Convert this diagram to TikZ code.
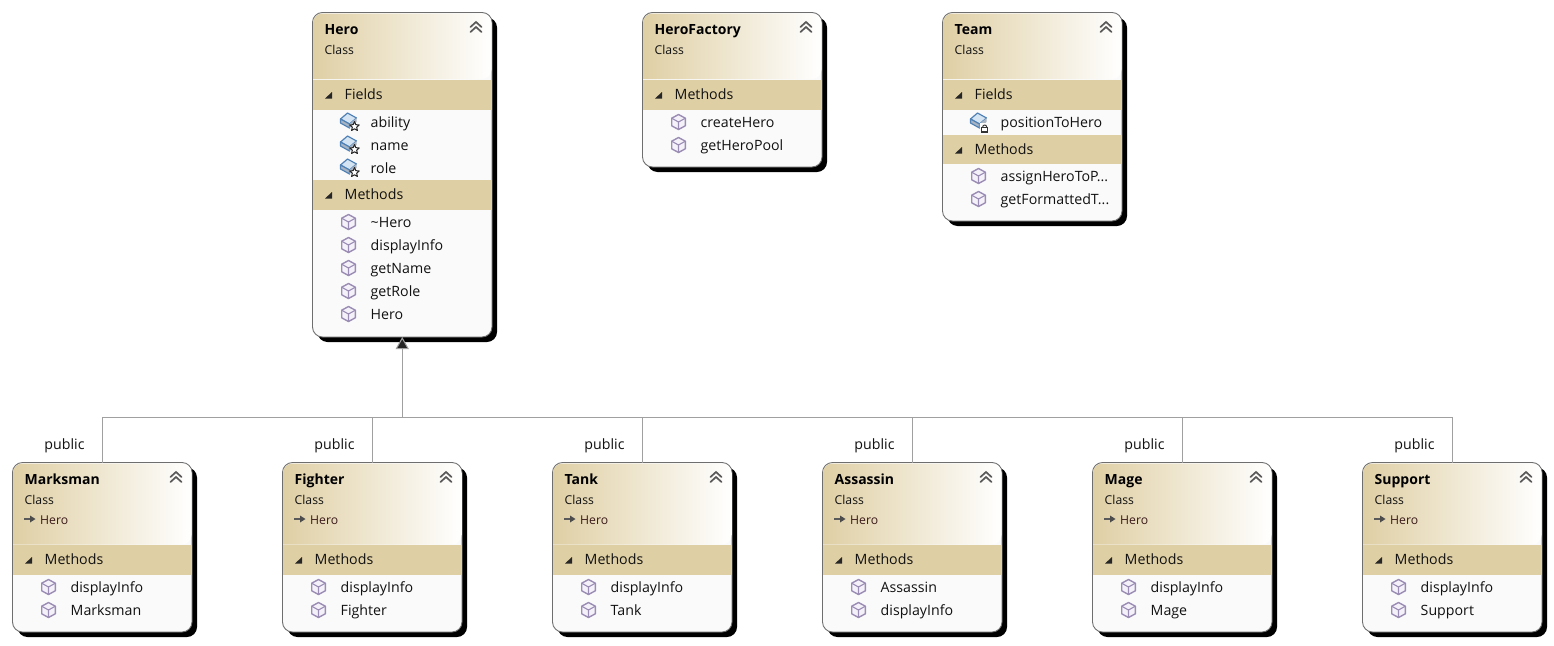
\documentclass[tikz,border=0pt]{standalone}
\usepackage{fontspec}
\setmainfont{Open Sans}
\usetikzlibrary{arrows.meta,shapes.geometric}
\definecolor{hdr}{HTML}{DFCFA4}
\definecolor{body}{HTML}{FAFAFA}
\definecolor{edge}{HTML}{6E6E6E}
\definecolor{conn}{HTML}{A0A0A0}
\definecolor{cube}{HTML}{9A8CB5}
\definecolor{cubefill}{HTML}{F4F2F8}
\definecolor{fieldb}{HTML}{4F81B5}
\definecolor{fieldf}{HTML}{D5E4F2}
\definecolor{fieldd}{HTML}{A9B4C2}
\definecolor{chev}{HTML}{5A5A5A}
\definecolor{txt}{HTML}{111111}
\definecolor{basecol}{HTML}{3A1A1A}
\tikzset{
  classbox/.style={draw=edge,line width=0.9pt,fill=body,rounded corners=10pt,minimum width=179.5pt,inner sep=0pt,outer sep=0pt,anchor=north west},
  classshadow/.style={fill=black,rounded corners=10pt,minimum width=179.5pt,inner sep=0pt,outer sep=0pt,anchor=north west},
  secband/.style={fill=hdr,minimum width=178.5pt,minimum height=#1,inner sep=0pt,outer sep=0pt,anchor=north west},
  titletext/.style={font=\fontsize{14}{16}\selectfont\bfseries,text=black,anchor=base west,inner sep=0pt},
  kindtext/.style={font=\fontsize{12.2}{14}\selectfont,text=txt,anchor=base west,inner sep=0pt},
  basetext/.style={font=\fontsize{12.2}{14}\selectfont,text=basecol,anchor=base west,inner sep=0pt},
  sectext/.style={font=\fontsize{14.2}{16}\selectfont,text=txt,anchor=base west,inner sep=0pt},
  itemtext/.style={font=\fontsize{14.2}{16}\selectfont,text=txt,anchor=base west,inner sep=0pt},
  pubtext/.style={font=\fontsize{14.2}{16}\selectfont,text=txt,anchor=base,inner sep=0pt},
  connector/.style={draw=conn,line width=1pt},
  icon/.style={line join=round,line cap=round},
  chevron/.style={draw=chev,line width=1.7pt,line cap=round}
}
\newcommand{\umlchev}[2]{%
  \draw[chevron] (#1-5.5,#2+5)--(#1,#2)--(#1+5.5,#2+5);
  \draw[chevron] (#1-5.5,#2+10)--(#1,#2+5)--(#1+5.5,#2+10);
}
\newcommand{\umlheader}[3]{%
  \shade[left color=hdr,right color=white,rounded corners=9.5pt] (#1+0.5,#3) -- (#1+0.5,#2+0.5) -- (#1+179,#2+0.5) -- (#1+179,#3) [sharp corners] -- cycle;
}
\newcommand{\umlsection}[5]{%
  \node[secband,minimum height=#4 pt] (#1) at (#2+0.5,#3) {};
  \fill[black!85] (#2+12.5,#3+18.5)--(#2+19.5,#3+18.5)--(#2+19.5,#3+12)--cycle;
  \node[sectext] (#1-label) at (#2+32,#3+19) {#5};
}
\newcommand{\umlcube}[2]{%
  \begin{scope}[shift={(#1,#2)},icon]
    \draw[cube,fill=cubefill,line width=1.4pt] (0,-7.5)--(6.8,-3.8)--(6.8,3.8)--(0,7.5)--(-6.8,3.8)--(-6.8,-3.8)--cycle;
    \draw[cube,line width=1.1pt] (-6.8,-3.8)--(0,0)--(6.8,-3.8) (0,0)--(0,7.5);
  \end{scope}
}
\newcommand{\umlbrick}{%
  \draw[fieldb,fill=fieldf,line width=1.2pt] (-8,-3)--(-1,-9)--(8,-4)--(1,2)--cycle;
  \draw[fieldb,fill=fieldd,line width=1.2pt] (-8,-3)--(1,2)--(1,6)--(-8,1)--cycle;
  \fill[fieldd] (1,2)--(8,-4)--(8,0)--(1,6)--cycle;
}
\newcommand{\umlstarfield}[2]{%
  \begin{scope}[shift={(#1,#2)},icon]
    \umlbrick
    \node[star,star points=5,star point ratio=2.2,draw=black!85,fill=white,line width=1pt,minimum size=10pt,inner sep=0pt] (star-#1-#2) at (6,4.5) {};
  \end{scope}
}
\newcommand{\umllockfield}[2]{%
  \begin{scope}[shift={(#1,#2)},icon]
    \umlbrick
    \fill[body] (1.5,1) rectangle (11,11);
    \draw[black!80,line width=1pt] (4.2,5) arc[start angle=180,end angle=360,radius=2];
    \fill[black!80] (2.6,5) rectangle (9.8,10.5);
    \fill[white] (3.8,6.2) rectangle (8.6,9.2);
  \end{scope}
}
\newcommand{\umlitem}[4]{%
  \umlcube{#2+36}{#3}
  \node[itemtext] (#1) at (#2+58,#3+5) {#4};
}
\newcommand{\umlfielditem}[4]{%
  \umlstarfield{#2+36}{#3}
  \node[itemtext] (#1) at (#2+58,#3+5) {#4};
}
\begin{document}
\begin{tikzpicture}[x=1pt,y=-1pt]
\useasboundingbox (0,0) rectangle (1554,645);
\fill[white] (0,0) rectangle (1554,645);

% Hero
\node[classshadow,minimum height=324.5pt] (hero-shadow) at (317.5,17.5) {};
\node[classbox,minimum height=324.5pt] (hero) at (312.5,12.5) {};
\umlheader{312.5}{13}{79}
\node[titletext] (hero-title) at (324.5,34) {Hero};
\node[kindtext] (hero-kind) at (324.5,54) {Class};
\umlchev{476}{22}
\umlsection{hero-fields}{312.5}{80}{30}{Fields}
\umlfielditem{hero-f1}{312.5}{122}{ability}
\umlfielditem{hero-f2}{312.5}{145}{name}
\umlfielditem{hero-f3}{312.5}{168}{role}
\umlsection{hero-methods}{312.5}{180}{30}{Methods}
\umlitem{hero-m1}{312.5}{222}{\textasciitilde Hero}
\umlitem{hero-m2}{312.5}{245}{displayInfo}
\umlitem{hero-m3}{312.5}{268}{getName}
\umlitem{hero-m4}{312.5}{291}{getRole}
\umlitem{hero-m5}{312.5}{314}{Hero}

% HeroFactory
\node[classshadow,minimum height=154.5pt] (factory-shadow) at (647.5,17.5) {};
\node[classbox,minimum height=154.5pt] (factory) at (642.5,12.5) {};
\umlheader{642.5}{13}{79}
\node[titletext] (factory-title) at (654.5,34) {HeroFactory};
\node[kindtext] (factory-kind) at (654.5,54) {Class};
\umlchev{806}{22}
\umlsection{factory-methods}{642.5}{80}{30}{Methods}
\umlitem{factory-m1}{642.5}{122}{createHero}
\umlitem{factory-m2}{642.5}{145}{getHeroPool}

% Team
\node[classshadow,minimum height=208.5pt] (team-shadow) at (947.5,17.5) {};
\node[classbox,minimum height=208.5pt] (team) at (942.5,12.5) {};
\umlheader{942.5}{13}{79}
\node[titletext] (team-title) at (954.5,34) {Team};
\node[kindtext] (team-kind) at (954.5,54) {Class};
\umlchev{1106}{22}
\umlsection{team-fields}{942.5}{80}{30}{Fields}
\umllockfield{978.5}{122}
\node[itemtext] (team-f1) at (1000.5,127) {positionToHero};
\umlsection{team-methods}{942.5}{135}{29}{Methods}
\umlitem{team-m1}{942.5}{176}{assignHeroToP...}
\umlitem{team-m2}{942.5}{199}{getFormattedT...}

% Derived classes
\foreach \id/\x/\ttl/\one/\two in {%
  marksman/12.5/Marksman/displayInfo/Marksman,
  fighter/282.5/Fighter/displayInfo/Fighter,
  tank/552.5/Tank/displayInfo/Tank,
  assassin/822.5/Assassin/Assassin/displayInfo,
  mage/1092.5/Mage/displayInfo/Mage,
  support/1362.5/Support/displayInfo/Support}{%
  \node[classshadow,minimum height=169.5pt] (\id-shadow) at (\x+5,467.5) {};
  \node[classbox,minimum height=169.5pt] (\id) at (\x,462.5) {};
  \umlheader{\x}{463}{544.5}
  \node[titletext] (\id-title) at (\x+12,484) {\ttl};
  \node[kindtext] (\id-kind) at (\x+12,504) {Class};
  \umlchev{\x+163.5}{472}
  \draw[black!65,line width=1.3pt] (\x+11.5,519)--(\x+18,519);
  \fill[black!70] (\x+17.5,515.5)--(\x+23,519)--(\x+17.5,522.5)--cycle;
  \node[basetext] (\id-base) at (\x+27.5,524) {Hero};
  \umlsection{\id-methods}{\x}{545}{30}{Methods}
  \umlitem{\id-m1}{\x}{587}{\one}
  \umlitem{\id-m2}{\x}{610}{\two}
  \node[pubtext] (\id-pub) at (\x+52,449) {public};
}

% Connectors
\coordinate (bus) at (hero.south |- 0,417.5);
\foreach \id in {marksman,fighter,tank,assassin,mage,support}{
  \draw[connector] (\id.north) |- (bus);
}
\draw[connector,-{Triangle[length=12pt,width=13pt,fill=black!85]}] (bus) -- (hero.south);
\end{tikzpicture}
\end{document}
